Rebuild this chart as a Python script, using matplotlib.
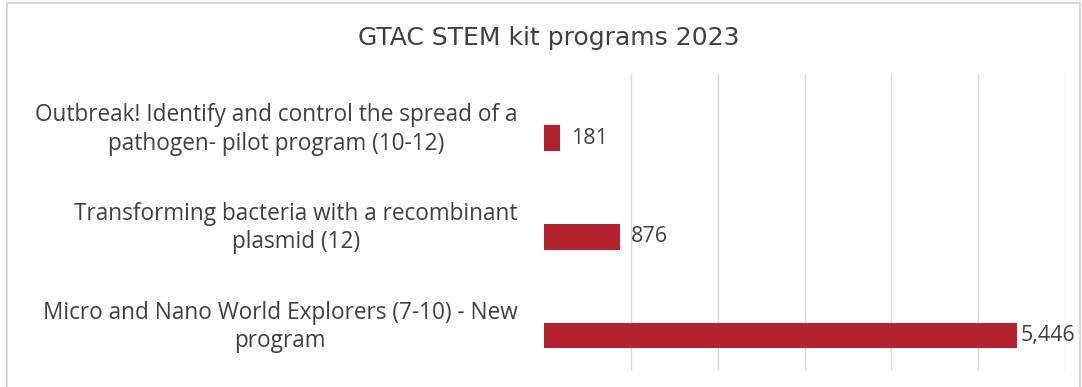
import matplotlib as mpl
mpl.use("Agg")
import matplotlib.pyplot as plt
from matplotlib.patches import Rectangle

# kit programs and participant counts
programs = [
    "Outbreak! Identify and control the spread of a\npathogen- pilot program (10-12)",
    "Transforming bacteria with a recombinant\nplasmid (12)",
    "Micro and Nano World Explorers (7-10) - New\nprogram",
]
participants = [181, 876, 5446]
title = "GTAC STEM kit programs 2023"

bar_color = "#B3222E"
text_color = "#404040"
grid_color = "#D9D9D9"
fonts = ["Open Sans", "DejaVu Sans"]

fig = plt.figure(figsize=(10.82, 3.87), dpi=100)
fig.patch.set_facecolor("white")
# light outline around the chart area
fig.patches.append(Rectangle((7 / 1082, -0.01), 1073 / 1082, 384 / 387 + 0.01, transform=fig.transFigure,
                             fill=False, edgecolor="#D0D0D0", linewidth=1.2))

ax = fig.add_axes([544 / 1082, 1 - 371 / 387, (1065 - 544) / 1082, (371 - 75) / 387])

ypos = list(range(len(programs)))
bar_y = [y + 0.14 for y in ypos]
ax.barh(bar_y, participants, height=0.26, color=bar_color, zorder=3)

# value labels; the longest bar sits close to the right edge, so tighter gap there
for y, v in zip(bar_y, participants):
    gap = 3 if v == max(participants) else 8
    ax.annotate("{:,}".format(v), xy=(v, y), xytext=(gap, 0), textcoords="offset points",
                ha="left", va="center", fontsize=15.5, color=text_color, family=fonts,
                annotation_clip=False)

ax.set_xlim(0, 6000)
ax.set_ylim(2.5, -0.5)
ax.set_xticks(range(1000, 6001, 1000))
ax.tick_params(axis="x", length=0, labelbottom=False)
ax.grid(axis="x", color=grid_color, linewidth=1, zorder=0)

ax.set_yticks(ypos)
ax.set_yticklabels(programs, fontsize=16.3, color=text_color, family=fonts,
                   multialignment="center", linespacing=1.25)
ax.tick_params(axis="y", length=0, pad=19)

for side in ax.spines.values():
    side.set_visible(False)

fig.text(549 / 1082, 1 - 38 / 387, title, ha="center", va="center", fontsize=18,
         color=text_color, family=["Liberation Sans Narrow", "DejaVu Sans"])

fig.savefig("out.png", dpi=100)
